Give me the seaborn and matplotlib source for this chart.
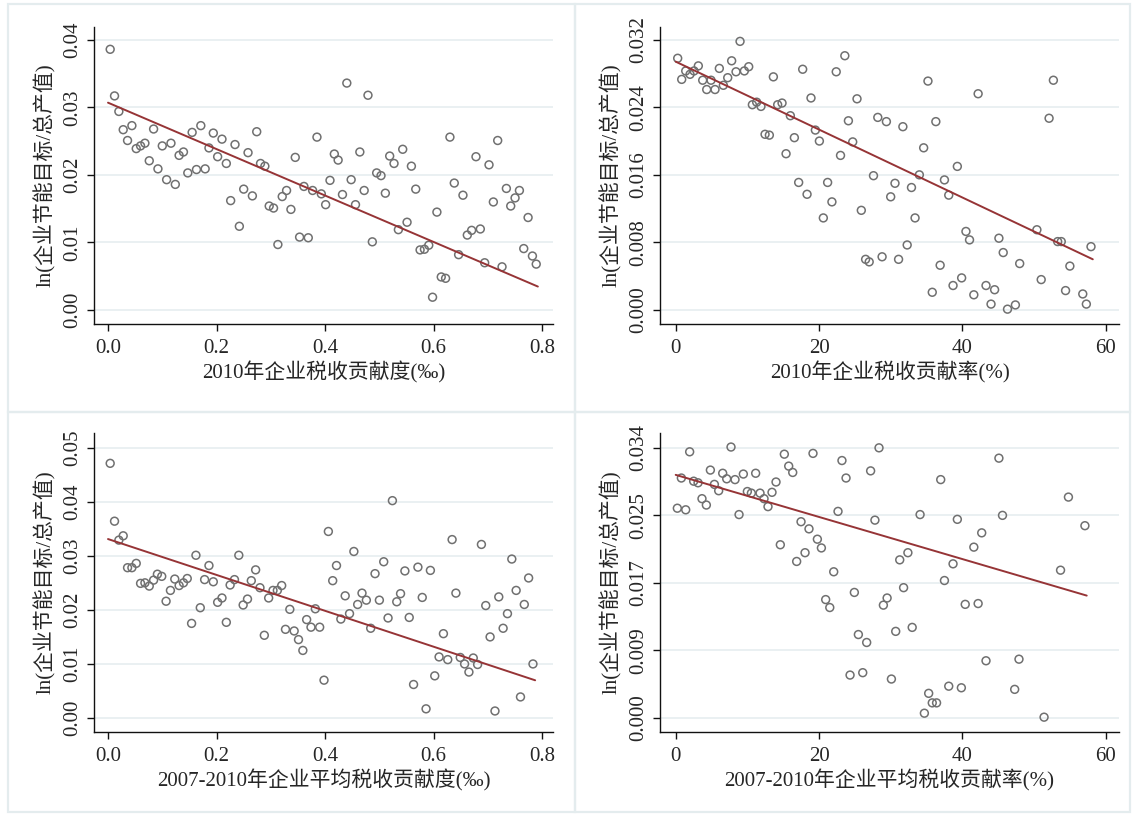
import numpy as np
import pandas as pd
import seaborn as sns
import matplotlib.pyplot as plt
from matplotlib.patches import Rectangle

# values
p1_x = [0.004,0.012,0.020,0.028,0.044,0.036,0.052,0.060,0.068,0.076,0.084,0.092,0.100,0.108,0.116,0.124,0.131,0.139,0.147,0.155,
        0.163,0.171,0.179,0.186,0.194,0.202,0.210,0.218,0.226,0.234,0.242,0.250,0.258,0.266,0.274,0.281,0.289,0.297,0.305,0.313,
        0.321,0.329,0.337,0.345,0.353,0.361,0.369,0.377,0.385,0.393,0.401,0.409,0.417,0.424,0.432,0.440,0.448,0.456,0.464,0.472,
        0.479,0.487,0.495,0.503,0.511,0.519,0.527,0.535,0.543,0.551,0.559,0.567,0.575,0.583,0.591,0.598,0.606,0.614,0.622,0.630,
        0.638,0.646,0.654,0.662,0.670,0.678,0.686,0.694,0.702,0.710,0.718,0.726,0.734,0.742,0.750,0.758,0.766,0.774,0.782,0.789]
p1_y = [0.0386,0.0317,0.0294,0.0267,0.0273,0.0251,0.0239,0.0243,0.0247,0.0221,0.0268,0.0209,0.0243,0.0193,0.0247,0.0186,0.0229,0.0234,0.0203,0.0263,
        0.0208,0.0273,0.0209,0.0240,0.0262,0.0227,0.0253,0.0217,0.0162,0.0245,0.0124,0.0179,0.0233,0.0169,0.0264,0.0217,0.0213,0.0154,0.0151,0.0097,
        0.0168,0.0177,0.0149,0.0226,0.0108,0.0183,0.0107,0.0177,0.0256,0.0172,0.0156,0.0192,0.0231,0.0222,0.0171,0.0336,0.0193,0.0156,0.0234,0.0177,
        0.0318,0.0101,0.0203,0.0199,0.0173,0.0228,0.0217,0.0119,0.0238,0.0130,0.0213,0.0179,0.0089,0.0090,0.0096,0.0019,0.0145,0.0049,0.0047,0.0256,
        0.0188,0.0082,0.0170,0.0111,0.0118,0.0227,0.0120,0.0070,0.0215,0.0160,0.0251,0.0064,0.0180,0.0154,0.0166,0.0177,0.0091,0.0137,0.0080,0.0068]

p2_x = [0.28,0.84,1.40,2.0,2.56,3.16,3.77,4.33,4.93,5.49,6.09,6.65,7.26,7.81,8.42,8.98,9.58,10.19,10.7,11.3,
        11.9,12.47,13.07,13.63,14.23,14.84,15.4,16.0,16.56,17.16,17.72,18.33,18.88,19.49,20.05,20.6,21.2,21.8,22.4,23.0,
        23.6,24.1,24.7,25.3,25.9,26.5,27.0,27.6,28.2,28.8,29.4,30.0,30.6,31.1,31.7,32.3,32.9,33.4,34.0,34.6,
        35.2,35.8,36.3,36.9,37.5,38.1,38.7,39.3,39.9,40.5,41.0,41.6,42.2,43.3,44.0,44.5,45.1,45.7,46.3,47.4,
        48.0,50.4,51.0,52.1,52.7,53.3,53.8,54.4,55.0,56.8,57.3,57.95]
p2_y = [0.0298,0.0273,0.0283,0.0279,0.0283,0.0289,0.0272,0.0261,0.0272,0.0261,0.0286,0.0266,0.0275,0.0295,0.0282,0.0318,0.0283,0.0288,0.0243,0.0246,
        0.0241,0.0208,0.0207,0.0276,0.0243,0.0245,0.0185,0.0230,0.0204,0.0151,0.0285,0.0137,0.0251,0.0213,0.0200,0.0109,0.0151,0.0128,0.0282,0.0183,
        0.0301,0.0224,0.0199,0.0250,0.0118,0.0060,0.0057,0.0159,0.0228,0.0063,0.0223,0.0134,0.0150,0.0060,0.0217,0.0077,0.0145,0.0109,0.0160,0.0192,
        0.0271,0.0021,0.0223,0.0053,0.0154,0.0136,0.0029,0.0170,0.0038,0.0093,0.0083,0.0018,0.0256,0.0029,0.0007,0.0024,0.0085,0.0068,0.0001,0.0006,
        0.0055,0.0095,0.0036,0.0227,0.0272,0.0081,0.0081,0.0023,0.0052,0.0019,0.0007,0.0075]

p3_x = [0.004,0.012,0.020,0.028,0.036,0.044,0.052,0.060,0.068,0.076,0.084,0.091,0.099,0.107,0.115,0.123,0.131,0.139,0.146,0.154,
        0.162,0.170,0.178,0.186,0.194,0.202,0.210,0.218,0.225,0.233,0.241,0.249,0.257,0.264,0.272,0.280,0.288,0.296,0.304,0.312,
        0.320,0.327,0.335,0.343,0.351,0.359,0.366,0.374,0.382,0.390,0.398,0.406,0.414,0.421,0.429,0.437,0.445,0.453,0.460,0.468,
        0.476,0.484,0.492,0.500,0.508,0.516,0.524,0.532,0.539,0.547,0.555,0.563,0.571,0.579,0.586,0.594,0.602,0.610,0.618,0.626,
        0.634,0.641,0.649,0.657,0.665,0.673,0.681,0.688,0.696,0.704,0.713,0.720,0.728,0.736,0.744,0.752,0.760,0.767,0.775,0.783]
p3_y = [0.0471,0.0364,0.0329,0.0337,0.0278,0.0278,0.0286,0.0249,0.0250,0.0244,0.0255,0.0266,0.0262,0.0216,0.0236,0.0257,0.0245,0.0250,0.0258,0.0175,
        0.0301,0.0204,0.0256,0.0282,0.0252,0.0214,0.0222,0.0177,0.0246,0.0256,0.0301,0.0209,0.0220,0.0254,0.0274,0.0241,0.0153,0.0222,0.0236,0.0236,
        0.0245,0.0164,0.0201,0.0161,0.0145,0.0125,0.0182,0.0168,0.0202,0.0168,0.0070,0.0345,0.0254,0.0282,0.0183,0.0226,0.0193,0.0308,0.0210,0.0231,
        0.0218,0.0166,0.0267,0.0218,0.0289,0.0185,0.0402,0.0215,0.0230,0.0272,0.0186,0.0062,0.0279,0.0223,0.0017,0.0273,0.0078,0.0113,0.0156,0.0108,
        0.0330,0.0231,0.0112,0.0100,0.0085,0.0111,0.0099,0.0321,0.0208,0.0150,0.0013,0.0224,0.0166,0.0193,0.0294,0.0236,0.0039,0.0210,0.0259,0.0100]

p4_x = [0.23,0.79,1.40,1.95,2.51,3.12,3.67,4.28,4.84,5.40,6.0,6.56,7.12,7.72,8.28,8.84,9.44,10.0,10.56,11.16,
        11.77,12.33,12.88,13.44,14.0,14.6,15.16,15.77,16.33,16.88,17.49,18.05,18.6,19.16,19.77,20.33,20.93,21.5,22.05,22.65,
        23.2,23.77,24.33,24.93,25.49,26.1,26.65,27.2,27.8,28.37,28.98,29.5,30.1,30.7,31.26,31.8,32.4,33.0,34.1,34.7,
        35.3,35.8,36.4,36.98,37.5,38.1,38.7,39.3,39.86,40.4,41.6,42.2,42.7,43.3,45.1,45.6,47.3,47.9,51.4,53.7,
        54.8,57.1]
p4_y = [0.0264,0.0302,0.0262,0.0335,0.0298,0.0296,0.0276,0.0268,0.0312,0.0294,0.0286,0.0308,0.0301,0.0341,0.0300,0.0256,0.0307,0.0285,0.0283,0.0308,
        0.0283,0.0276,0.0266,0.0284,0.0297,0.0218,0.0332,0.0317,0.0309,0.0197,0.0247,0.0208,0.0238,0.0333,0.0225,0.0214,0.0149,0.0139,0.0184,0.0260,
        0.0324,0.0302,0.0054,0.0158,0.0105,0.0057,0.0095,0.0311,0.0249,0.0340,0.0142,0.0151,0.0049,0.0109,0.0199,0.0164,0.0208,0.0114,0.0256,0.0006,
        0.0031,0.0019,0.0019,0.0300,0.0173,0.0040,0.0194,0.0250,0.0038,0.0143,0.0215,0.0144,0.0233,0.0072,0.0327,0.0255,0.0036,0.0074,0.0001,0.0186,
        0.0278,0.0242]

# fitted lines (intercept, slope, x span)
fit1 = (0.0307, -0.03437, [0.0, 0.792])
fit2 = (0.0294, -0.000402, [0.0, 58.2])
fit3 = (0.0331, -0.03319, [0.0, 0.787])
fit4 = (0.0306, -0.000265, [0.0, 57.35])

y_label = "ln(企业节能目标/总产值)"
x_labels = ["2010年企业税收贡献度(‰)", "2010年企业税收贡献率(%)",
            "2007-2010年企业平均税收贡献度(‰)", "2007-2010年企业平均税收贡献率(%)"]

ticks_share = [0.0, 0.2, 0.4, 0.6, 0.8]
ticks_rate = [0, 20, 40, 60]
yt1 = [0.00, 0.01, 0.02, 0.03, 0.04]
yt2 = [0.000, 0.008, 0.016, 0.024, 0.032]
yt3 = [0.00, 0.01, 0.02, 0.03, 0.04, 0.05]
yt4 = [0.0, 0.0085, 0.017, 0.0255, 0.034]
yt4_lab = ["0.000", "0.009", "0.017", "0.025", "0.034"]

sns.set_style("white")
fonts = ["Liberation Serif", "Noto Sans CJK SC"]
plt.rcParams["font.family"] = fonts
plt.rcParams["axes.unicode_minus"] = False

fig = plt.figure(figsize=(11.34, 8.16), dpi=100)

# light frames around each sub-graph
for x0, y0, w, h in [(8, 4, 567, 408), (575, 4, 555, 408), (8, 412, 567, 400), (575, 412, 555, 400)]:
    fig.add_artist(Rectangle((x0 / 1134, 1 - (y0 + h) / 816), w / 1134, h / 816,
                             transform=fig.transFigure, fill=False, edgecolor="#e4ecee", lw=1.6))


def panel(rect, x, y, fit, xlab, xticks, xfmt, xlim, yticks, ylabs, ylim):
    ax = fig.add_axes(rect)
    sns.scatterplot(x=x, y=y, ax=ax, s=32, facecolors="none", edgecolor="#707070", linewidth=1.1)
    b0, b1, span = fit
    fx = np.array(span)
    sns.lineplot(x=fx, y=b0 + b1 * fx, ax=ax, color="#963436", lw=1.4)
    ax.set_xlim(xlim)
    ax.set_ylim(ylim)
    ax.set_xticks(xticks)
    ax.set_xticklabels([xfmt.format(t) for t in xticks])
    ax.set_yticks(yticks)
    ax.set_yticklabels(ylabs)
    for s in ["top", "right"]:
        ax.spines[s].set_visible(False)
    for s in ["left", "bottom"]:
        ax.spines[s].set_linewidth(1.0)
        ax.spines[s].set_color("#111111")
    ax.grid(axis="y", color="#e6eef0", lw=1.2)
    ax.set_axisbelow(True)
    ax.tick_params(axis="both", direction="out", length=5, width=1.0, color="#111111",
                   labelsize=15, bottom=True, left=True)
    ax.tick_params(axis="x", pad=6)
    plt.setp(ax.get_yticklabels(), rotation=90, va="center")
    ax.set_xlabel(xlab, fontsize=15, labelpad=2)
    ax.set_ylabel(y_label, fontsize=15, labelpad=5)
    return ax


panel([0.0829, 0.6029, 0.4048, 0.3640], p1_x, p1_y, fit1, x_labels[0], ticks_share, "{:.1f}",
      (-0.0258, 0.820), yt1, ["{:.2f}".format(t) for t in yt1], (-0.00207, 0.0419))
panel([0.5820, 0.6029, 0.4048, 0.3640], p2_x, p2_y, fit2, x_labels[1], ticks_rate, "{:d}",
      (-2.19, 61.86), yt2, ["{:.3f}".format(t) for t in yt2], (-0.00166, 0.0335))
panel([0.0829, 0.1029, 0.4048, 0.3664], p3_x, p3_y, fit3, x_labels[2], ticks_share, "{:.1f}",
      (-0.0258, 0.820), yt3, ["{:.2f}".format(t) for t in yt3], (-0.00259, 0.0527))
panel([0.5820, 0.1029, 0.4048, 0.3664], p4_x, p4_y, fit4, x_labels[3], ticks_rate, "{:d}",
      (-2.19, 61.86), yt4, yt4_lab, (-0.00177, 0.03586))

fig.savefig("out.png", dpi=100, facecolor="white")
